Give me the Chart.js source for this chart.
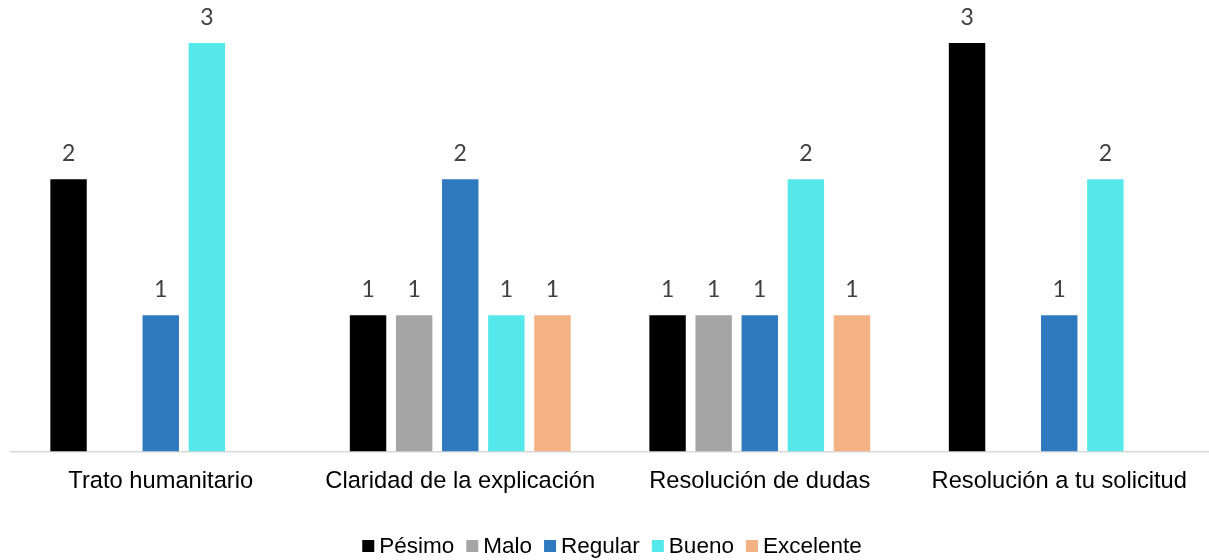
<!DOCTYPE html>
<html>
<head>
<meta charset="utf-8">
<script src="https://cdn.jsdelivr.net/npm/chart.js@4/dist/chart.umd.min.js"></script>
<style>
  html, body { margin: 0; padding: 0; background: #ffffff; }
  #wrap { width: 1209px; height: 560px; position: relative; }
</style>
</head>
<body>
<div id="wrap"><canvas id="c" width="1209" height="560"></canvas></div>
<script>
const categories = ["Trato humanitario", "Claridad de la explicación", "Resolución de dudas", "Resolución a tu solicitud"];
const seriesNames = ["Pésimo", "Malo", "Regular", "Bueno", "Excelente"];
const pesimo    = [2, 1, 1, 3];
const malo      = [null, 1, 1, null];
const regular   = [1, 2, 1, 1];
const bueno     = [3, 1, 2, 2];
const excelente = [null, 1, 1, null];
const seriesColors = ["#000000", "#a5a5a5", "#2f79bf", "#55e8eb", "#f4b183"];

const seriesValues = [pesimo, malo, regular, bueno, excelente];

const dataLabels = {
  id: 'dataLabels',
  afterDatasetsDraw(chart) {
    const ctx = chart.ctx;
    ctx.save();
    ctx.font = '23px Lato';
    ctx.fillStyle = '#404040';
    ctx.textAlign = 'center';
    ctx.textBaseline = 'alphabetic';
    chart.data.datasets.forEach((ds, i) => {
      const meta = chart.getDatasetMeta(i);
      meta.data.forEach((bar, j) => {
        const v = ds.data[j];
        if (v === null || v === undefined) return;
        ctx.fillText(String(v), bar.x, bar.y - 18);
      });
    });
    ctx.restore();
  }
};

const customLegend = {
  id: 'customLegend',
  afterDraw(chart) {
    const ctx = chart.ctx;
    ctx.save();
    ctx.font = '22.5px "Liberation Sans", Arial, sans-serif';
    ctx.textBaseline = 'alphabetic';
    ctx.textAlign = 'left';
    const box = 12, gapBox = 5, gapItem = 12;
    const items = chart.data.datasets.map(ds => ({ label: ds.label, color: ds.backgroundColor, w: ctx.measureText(ds.label).width }));
    let total = 0;
    items.forEach((it, k) => { total += box + gapBox + it.w + (k < items.length - 1 ? gapItem : 0); });
    let x = 612 - total / 2;
    const baseY = 553;
    items.forEach(it => {
      ctx.fillStyle = it.color;
      ctx.fillRect(x, baseY - 13, box, box);
      x += box + gapBox;
      ctx.fillStyle = '#000000';
      ctx.fillText(it.label, x, baseY);
      x += it.w + gapItem;
    });
    ctx.restore();
  }
};

new Chart(document.getElementById('c'), {
  type: 'bar',
  data: {
    labels: categories,
    datasets: seriesNames.map((name, i) => ({
      label: name,
      data: seriesValues[i],
      backgroundColor: seriesColors[i],
      borderWidth: 0,
      categoryPercentage: 0.7696,
      barPercentage: 0.79
    }))
  },
  options: {
    responsive: false,
    animation: false,
    devicePixelRatio: 1,
    layout: { padding: { top: 43, left: 11, right: 0, bottom: 57 } },
    plugins: {
      legend: { display: false },
      tooltip: { enabled: false }
    },
    scales: {
      x: {
        grid: { display: false },
        border: { display: true, color: '#d9d9d9', width: 1.5 },
        ticks: {
          color: '#000000',
          padding: 7.5,
          font: { family: '"Liberation Sans", Arial, sans-serif', size: 23.7 },
          maxRotation: 0,
          autoSkip: false
        }
      },
      y: {
        display: false,
        min: 0,
        max: 3
      }
    }
  },
  plugins: [dataLabels, customLegend]
});
</script>
</body>
</html>
